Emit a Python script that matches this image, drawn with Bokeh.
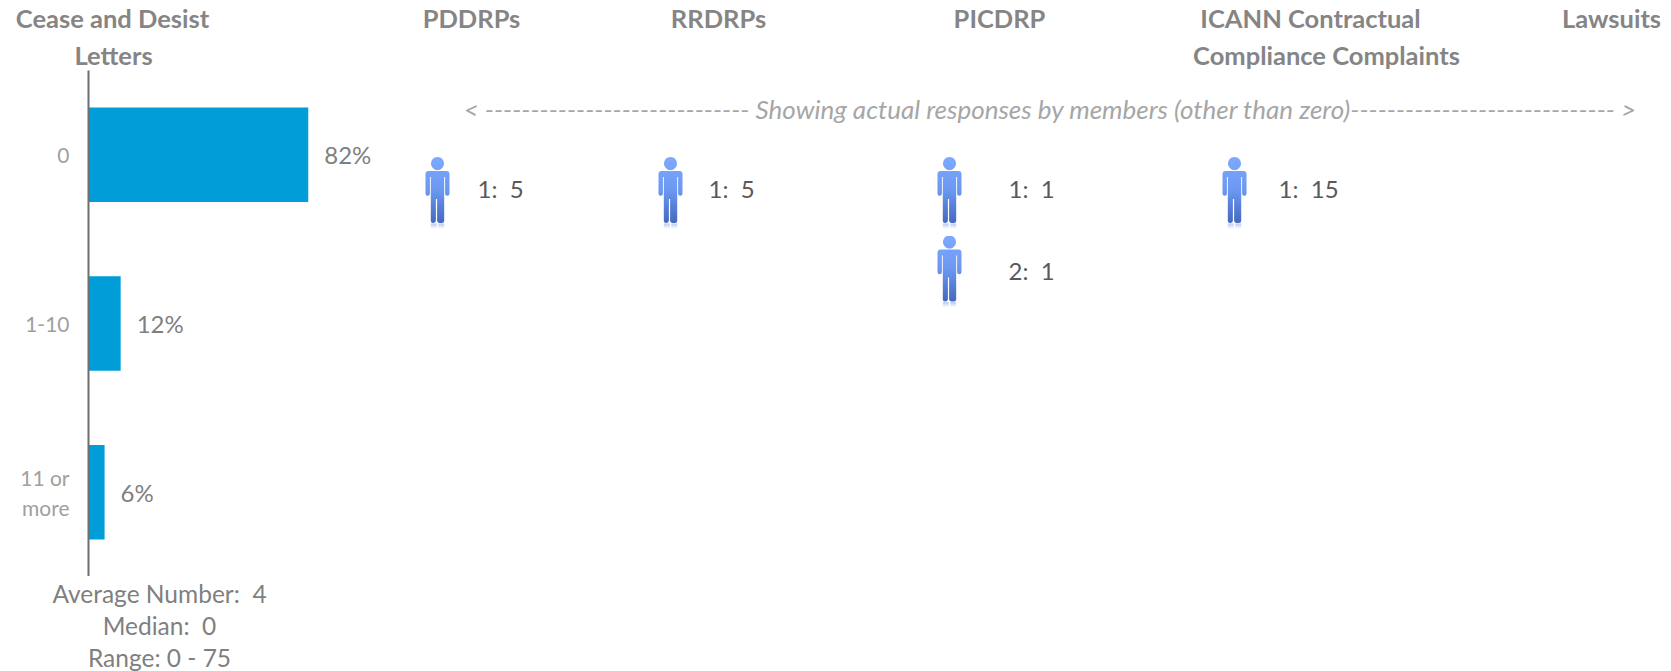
import base64
from bokeh.embed import file_html
from bokeh.resources import INLINE
from bokeh.layouts import column
from bokeh.plotting import figure
from bokeh.models import Range1d, FactorRange, ColumnDataSource, LinearScale
from bokeh.core.properties import value

FONT = "Lato"
NB = "\u00a0"
categories = ["0", "1-10", "11 or\nmore"]
percents = [82, 12, 6]
percent_labels = ["82%", "12%", "6%"]
summary = [f"Average Number:{NB}{NB}4", f"Median:{NB}{NB}0", "Range: 0 - 75"]
note = "< ----------------------------- Showing actual responses by members (other than zero)----------------------------- >"
headers = ["Cease and Desist", "Letters", "PDDRPs", "RRDRPs", "PICDRP", "ICANN Contractual", "Compliance Complaints", "Lawsuits"]
resp_labels = [f"1:{NB}{NB}5", f"1:{NB}{NB}5", f"1:{NB}{NB}1", f"2:{NB}{NB}1", f"1:{NB}{NB}15"]

# layout in page pixels
W, H = 1671, 671
PAGE_L, PAGE_R, PAGE_T, PAGE_B = 88, W, 70, 576
PX_PER_PCT = 2.68
header_x = [112, 113, 471, 718, 999, 1310, 1326, 1611]
header_y = [17, 54, 17, 17, 17, 17, 54, 17]
summary_x = 159
summary_y = [593, 625, 657]
note_x, note_y = 1050, 108
icon_x = [437, 670, 949, 1234]
resp_icon = [0, 1, 2, 2, 3]
resp_row = [0, 0, 0, 1, 0]
row_y = [192.5, 271]
resp_text_x = [477, 708, 1008, 1008, 1278]
resp_text_y = [188, 270]


def py(y):
    """page pixel row -> synthetic coordinate on the categorical axis"""
    return 3 * (PAGE_B - y) / (PAGE_B - PAGE_T)


svg = """<svg xmlns='http://www.w3.org/2000/svg' width='26' height='72' viewBox='0 0 26 72'>
<defs><linearGradient id='g' x1='0' y1='0' x2='0' y2='1'>
<stop offset='0' stop-color='#7FA9FF'/><stop offset='0.5' stop-color='#6C98F2'/><stop offset='1' stop-color='#4468BE'/></linearGradient>
<linearGradient id='r' x1='0' y1='0' x2='0' y2='1'><stop offset='0' stop-color='#8FA8E0' stop-opacity='0.6'/><stop offset='1' stop-color='#8FA8E0' stop-opacity='0'/></linearGradient></defs>
<path fill='url(#g)' d='M13 0a6.5 6.5 0 1 1-.01 0zM4 14h18a3 3 0 0 1 3 3v19.5a2.2 2.2 0 0 1-4.4 0V20h-.9v43.5a2.5 2.5 0 0 1-2.5 2.5h-2.2a2.4 2.4 0 0 1-2.4-2.4V42h-1.2v21.6a2.4 2.4 0 0 1-2.4 2.4H8.8a2.5 2.5 0 0 1-2.5-2.5V20h-.9v16.5a2.2 2.2 0 0 1-4.4 0V17a3 3 0 0 1 3-3z'/>
<rect x='6.3' y='66.5' width='6' height='5.5' fill='url(#r)'/><rect x='13.7' y='66.5' width='6' height='5.5' fill='url(#r)'/>
</svg>"""
icon_url = "data:image/svg+xml;base64," + base64.b64encode(svg.encode()).decode()


def strip(y0, y1):
    f = figure(width=W, height=y1 - y0, output_backend="svg", toolbar_location=None,
               x_range=Range1d(0, W), y_range=Range1d(y1, y0), frame_align=False,
               min_border=0, outline_line_color=None, x_axis_location=None, y_axis_location=None)
    f.grid.visible = False
    return f


# titles strip
top = strip(0, PAGE_T)
top.text(x=header_x, y=header_y, text=headers, text_align="center", text_baseline="middle",
         text_color="#858585", text_font=value(FONT), text_font_style="bold", text_font_size="25.5px")

# main chart
p = figure(width=W, height=PAGE_B - PAGE_T, output_backend="svg", toolbar_location=None,
           x_range=Range1d(0, (PAGE_R - PAGE_L) / PX_PER_PCT), frame_align=False,
           y_range=FactorRange(factors=categories[::-1]),
           min_border_left=PAGE_L, min_border_right=0, min_border_top=0, min_border_bottom=0,
           x_axis_location=None, outline_line_color=None, background_fill_color="white")
p.grid.visible = False
p.extra_x_ranges = {"page": Range1d(PAGE_L, PAGE_R)}
p.extra_x_scales = {"page": LinearScale()}
p.yaxis.axis_line_color = "#6f6f6f"
p.yaxis.axis_line_width = 2
p.yaxis.major_tick_line_color = None
p.yaxis.minor_tick_line_color = None
p.yaxis.major_label_text_color = "#a0a0a0"
p.yaxis.major_label_text_font = FONT
p.yaxis.major_label_text_font_size = "21px"
p.yaxis.major_label_standoff = 13
p.yaxis.major_label_overrides = {categories[2]: categories[2] + "\n" + NB}

src = ColumnDataSource(dict(cat=categories, pct=percents, lab=percent_labels))
p.hbar(y="cat", left=0, right="pct", height=0.56, source=src, fill_color="#009DD9", line_color=None)
p.text(x="pct", y="cat", text="lab", source=src, x_offset=16, text_baseline="middle",
       text_color="#7f7f7f", text_font=value(FONT), text_font_size="24px")
p.text(x=[note_x], y=[py(note_y)], text=[note], x_range_name="page", text_align="center", text_baseline="middle",
       text_color="#a6a6a6", text_font=value(FONT), text_font_style="italic", text_font_size="26px")
ix = [icon_x[i] for i in resp_icon]
iy = [py(row_y[r]) for r in resp_row]
p.image_url(url=[icon_url] * len(ix), x=ix, y=iy, w=26, h=72, w_units="screen", h_units="screen",
            anchor="center", x_range_name="page")
p.text(x=resp_text_x, y=[py(resp_text_y[r]) for r in resp_row], text=resp_labels,
       x_range_name="page", text_baseline="middle",
       text_color="#595959", text_font=value(FONT), text_font_size="24px")

# summary strip
bot = strip(PAGE_B, H)
bot.text(x=[summary_x] * 3, y=summary_y, text=summary, text_align="center", text_baseline="middle",
         text_color="#7f7f7f", text_font=value(FONT), text_font_size="24.5px")

open("out.html", "w").write(file_html(column(top, p, bot, spacing=0), INLINE))
